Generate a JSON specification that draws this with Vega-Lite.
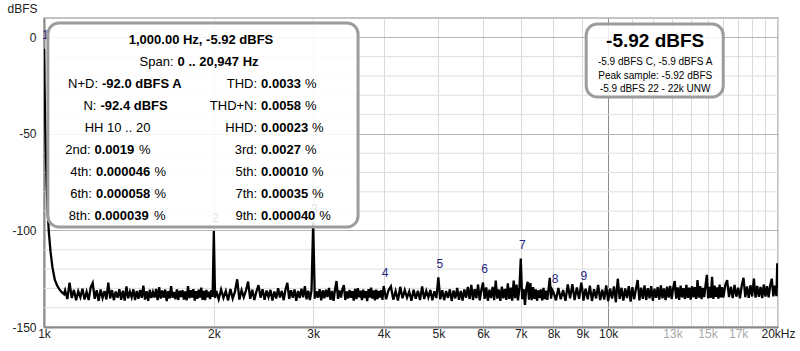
{
  "$schema": "https://vega.github.io/schema/vega-lite/v6.json",
  "width": 734,
  "height": 309,
  "autosize": {"type": "none"},
  "padding": {"left": 44, "top": 18, "right": 22, "bottom": 24},
  "background": "white",
  "config": {
    "font": "Liberation Sans",
    "view": {"stroke": "#b0b0b0", "strokeWidth": 1.5}
  },
  "datasets": {
    "minorGrid": [
      {"d":-140},{"d":-130},{"d":-120},{"d":-110},{"d":-90},{"d":-80},{"d":-70},{"d":-60},{"d":-40},{"d":-30},{"d":-20},{"d":-10}
    ],
    "spectrum": [
      {"f":1000,"d":-5.92},{"f":1001,"d":-14},{"f":1002,"d":-24},{"f":1004,"d":-38},{"f":1006,"d":-50},{"f":1008,"d":-62},{"f":1011,"d":-76},{"f":1015,"d":-90},{"f":1020,"d":-101},{"f":1027,"d":-111},{"f":1035,"d":-119},{"f":1045,"d":-125.5},{"f":1055,"d":-128.5},{"f":1065,"d":-130.5},{"f":1075,"d":-132},{"f":1085,"d":-133},
      {"f":1090,"d":-131.0},{"f":1100,"d":-135.5},{"f":1110,"d":-127.0},{"f":1120,"d":-135.0},{"f":1130,"d":-130.8},{"f":1140,"d":-136.2},{"f":1150,"d":-131.5},{"f":1160,"d":-134.6},{"f":1170,"d":-130.2},{"f":1180,"d":-135.8},{"f":1190,"d":-131.8},{"f":1200,"d":-136.0},{"f":1210,"d":-129.5},{"f":1220,"d":-127.2},{"f":1230,"d":-135.4},{"f":1240,"d":-131.0},{"f":1250,"d":-136.5},{"f":1260,"d":-130.6},{"f":1270,"d":-134.9},{"f":1280,"d":-131.4},{"f":1290,"d":-135.7},{"f":1300,"d":-127.0},{"f":1310,"d":-135.2},{"f":1320,"d":-130.9},{"f":1330,"d":-136.1},{"f":1340,"d":-131.6},{"f":1350,"d":-134.8},{"f":1360,"d":-130.4},{"f":1370,"d":-135.9},{"f":1380,"d":-131.2},{"f":1390,"d":-136.3},{"f":1400,"d":-129.0},{"f":1410,"d":-135.1},{"f":1420,"d":-131.7},{"f":1430,"d":-134.6},{"f":1440,"d":-130.5},{"f":1450,"d":-136.0},{"f":1460,"d":-131.3},{"f":1470,"d":-135.4},{"f":1480,"d":-130.8},{"f":1490,"d":-134.9},{"f":1500,"d":-128.6},{"f":1510,"d":-135.8},{"f":1520,"d":-131.5},{"f":1530,"d":-136.4},{"f":1540,"d":-130.7},{"f":1550,"d":-135.0},{"f":1560,"d":-131.9},{"f":1570,"d":-134.7},{"f":1580,"d":-130.3},{"f":1590,"d":-136.1},{"f":1600,"d":-129.4},{"f":1610,"d":-135.3},{"f":1620,"d":-131.1},{"f":1630,"d":-134.8},{"f":1640,"d":-130.6},{"f":1650,"d":-136.6},{"f":1660,"d":-131.4},{"f":1670,"d":-135.2},{"f":1680,"d":-128.9},{"f":1690,"d":-134.9},{"f":1700,"d":-131.8},{"f":1710,"d":-135.7},{"f":1720,"d":-130.5},{"f":1730,"d":-136.0},{"f":1740,"d":-131.2},{"f":1750,"d":-134.5},{"f":1760,"d":-130.9},{"f":1770,"d":-135.8},{"f":1780,"d":-131.6},{"f":1790,"d":-136.2},{"f":1800,"d":-128.8},{"f":1810,"d":-135.1},{"f":1820,"d":-131.0},{"f":1830,"d":-134.7},{"f":1840,"d":-130.4},{"f":1850,"d":-136.3},{"f":1860,"d":-131.5},{"f":1870,"d":-135.4},{"f":1880,"d":-130.7},{"f":1890,"d":-134.8},{"f":1900,"d":-129.6},{"f":1910,"d":-135.9},{"f":1920,"d":-131.3},{"f":1930,"d":-136.1},{"f":1940,"d":-130.8},{"f":1950,"d":-134.6},{"f":1960,"d":-131.7},{"f":1970,"d":-135.5},{"f":1980,"d":-130.9},{"f":1990,"d":-134.4},{"f":2000,"d":-100.3},{"f":2010,"d":-135.0},
      {"f":2020,"d":-131.2},{"f":2040,"d":-135.6},{"f":2060,"d":-130.6},{"f":2080,"d":-134.9},{"f":2100,"d":-131.4},{"f":2120,"d":-136.2},{"f":2140,"d":-130.3},{"f":2160,"d":-135.3},{"f":2180,"d":-131.7},{"f":2200,"d":-125.3},{"f":2220,"d":-135.8},{"f":2240,"d":-130.9},{"f":2260,"d":-134.6},{"f":2280,"d":-131.2},{"f":2300,"d":-126.5},{"f":2320,"d":-135.4},{"f":2340,"d":-130.7},{"f":2360,"d":-136.0},{"f":2380,"d":-131.5},{"f":2400,"d":-128.3},{"f":2420,"d":-134.8},{"f":2440,"d":-130.4},{"f":2460,"d":-135.9},{"f":2480,"d":-131.1},{"f":2500,"d":-134.5},{"f":2520,"d":-130.8},{"f":2540,"d":-136.3},{"f":2560,"d":-131.6},{"f":2580,"d":-135.2},{"f":2600,"d":-129.9},{"f":2620,"d":-134.7},{"f":2640,"d":-131.3},{"f":2660,"d":-136.1},{"f":2680,"d":-130.5},{"f":2700,"d":-127.1},{"f":2720,"d":-135.5},{"f":2740,"d":-131.0},{"f":2760,"d":-134.9},{"f":2780,"d":-130.6},{"f":2800,"d":-136.4},{"f":2820,"d":-131.4},{"f":2840,"d":-135.0},{"f":2860,"d":-130.2},{"f":2880,"d":-134.6},{"f":2900,"d":-128.8},{"f":2920,"d":-135.7},{"f":2940,"d":-131.2},{"f":2960,"d":-136.0},{"f":2980,"d":-130.9},{"f":3000,"d":-96.0},{"f":3020,"d":-135.3},{"f":3040,"d":-131.5},{"f":3060,"d":-134.8},{"f":3080,"d":-130.4},{"f":3100,"d":-136.2},{"f":3120,"d":-131.0},{"f":3140,"d":-135.1},{"f":3160,"d":-130.7},{"f":3180,"d":-134.5},{"f":3200,"d":-129.8},{"f":3220,"d":-135.9},{"f":3240,"d":-131.3},{"f":3260,"d":-136.5},{"f":3280,"d":-130.6},{"f":3300,"d":-126.2},{"f":3320,"d":-135.4},{"f":3340,"d":-131.1},{"f":3360,"d":-134.7},{"f":3380,"d":-130.5},{"f":3400,"d":-128.3},{"f":3420,"d":-136.0},{"f":3440,"d":-131.6},{"f":3460,"d":-135.2},{"f":3480,"d":-130.8},{"f":3500,"d":-134.9},{"f":3520,"d":-131.4},{"f":3540,"d":-136.3},{"f":3560,"d":-130.3},{"f":3580,"d":-135.6},{"f":3600,"d":-129.9},{"f":3620,"d":-134.6},{"f":3640,"d":-131.2},{"f":3660,"d":-136.1},{"f":3680,"d":-130.7},{"f":3700,"d":-135.0},{"f":3720,"d":-131.5},{"f":3740,"d":-136.6},{"f":3760,"d":-130.4},{"f":3780,"d":-134.8},{"f":3800,"d":-129.6},{"f":3820,"d":-135.3},{"f":3840,"d":-131.0},{"f":3860,"d":-136.2},{"f":3880,"d":-130.6},{"f":3900,"d":-135.5},{"f":3920,"d":-131.3},{"f":3940,"d":-134.7},{"f":3960,"d":-130.9},{"f":3980,"d":-136.0},
      {"f":4000,"d":-128.8},{"f":4040,"d":-135.6},{"f":4080,"d":-131.0},{"f":4120,"d":-129.0},{"f":4160,"d":-135.8},{"f":4200,"d":-131.4},{"f":4240,"d":-136.3},{"f":4280,"d":-129.2},{"f":4320,"d":-135.1},{"f":4360,"d":-130.9},{"f":4400,"d":-134.8},{"f":4440,"d":-131.6},{"f":4480,"d":-136.4},{"f":4520,"d":-130.7},{"f":4560,"d":-135.3},{"f":4600,"d":-131.2},{"f":4640,"d":-136.0},{"f":4680,"d":-129.0},{"f":4720,"d":-135.5},{"f":4760,"d":-131.3},{"f":4800,"d":-134.7},{"f":4840,"d":-130.8},{"f":4880,"d":-136.2},{"f":4920,"d":-131.5},{"f":4960,"d":-135.0},{"f":5000,"d":-124.3},{"f":5040,"d":-135.7},{"f":5080,"d":-130.9},{"f":5120,"d":-136.1},{"f":5160,"d":-131.4},{"f":5200,"d":-134.9},{"f":5240,"d":-130.5},{"f":5280,"d":-136.5},{"f":5320,"d":-131.1},{"f":5360,"d":-135.2},{"f":5400,"d":-129.8},{"f":5440,"d":-135.9},{"f":5480,"d":-131.3},{"f":5520,"d":-136.3},{"f":5560,"d":-130.6},{"f":5600,"d":-134.8},{"f":5640,"d":-129.3},{"f":5680,"d":-135.6},{"f":5720,"d":-128.2},{"f":5760,"d":-136.0},{"f":5800,"d":-130.4},{"f":5840,"d":-135.1},{"f":5880,"d":-128.0},{"f":5920,"d":-136.2},{"f":5960,"d":-130.8},{"f":6000,"d":-127.0},{"f":6040,"d":-135.4},{"f":6080,"d":-129.5},{"f":6120,"d":-136.4},{"f":6160,"d":-130.7},{"f":6200,"d":-135.0},{"f":6240,"d":-129.2},{"f":6280,"d":-136.1},{"f":6320,"d":-126.0},{"f":6360,"d":-135.3},{"f":6400,"d":-130.6},{"f":6440,"d":-136.5},{"f":6480,"d":-129.1},{"f":6520,"d":-135.2},{"f":6560,"d":-130.3},{"f":6600,"d":-136.0},{"f":6640,"d":-127.4},{"f":6680,"d":-135.5},{"f":6720,"d":-129.6},{"f":6760,"d":-136.3},{"f":6800,"d":-126.0},{"f":6840,"d":-135.1},{"f":6880,"d":-128.0},{"f":6920,"d":-136.2},{"f":6960,"d":-130.2},{"f":7000,"d":-114.5},{"f":7040,"d":-135.6},{"f":7080,"d":-130.4},{"f":7120,"d":-138.6},{"f":7160,"d":-130.0},{"f":7200,"d":-126.6},{"f":7240,"d":-135.8},{"f":7280,"d":-127.2},{"f":7320,"d":-136.1},{"f":7360,"d":-129.4},{"f":7400,"d":-135.4},{"f":7440,"d":-130.5},{"f":7480,"d":-136.4},{"f":7520,"d":-131.0},{"f":7560,"d":-135.0},{"f":7600,"d":-130.6},{"f":7640,"d":-136.2},{"f":7680,"d":-129.7},{"f":7720,"d":-135.5},{"f":7760,"d":-131.2},{"f":7800,"d":-136.0},{"f":7840,"d":-130.4},{"f":7880,"d":-124.5},{"f":7920,"d":-135.3},{"f":7960,"d":-130.8},
      {"f":8000,"d":-132.0},{"f":8080,"d":-136.2},{"f":8160,"d":-129.8},{"f":8240,"d":-135.6},{"f":8320,"d":-130.9},{"f":8400,"d":-136.4},{"f":8480,"d":-128.0},{"f":8560,"d":-135.1},{"f":8640,"d":-127.8},{"f":8720,"d":-136.0},{"f":8800,"d":-129.5},{"f":8880,"d":-135.4},{"f":8960,"d":-127.0},{"f":9000,"d":-130.5},{"f":9040,"d":-136.3},{"f":9120,"d":-130.2},{"f":9200,"d":-135.7},{"f":9280,"d":-128.6},{"f":9360,"d":-136.5},{"f":9440,"d":-130.4},{"f":9520,"d":-135.2},{"f":9600,"d":-128.2},{"f":9680,"d":-136.1},{"f":9760,"d":-130.7},{"f":9840,"d":-135.8},{"f":9920,"d":-128.4},{"f":10000,"d":-136.6},{"f":10080,"d":-130.1},{"f":10160,"d":-135.3},{"f":10240,"d":-129.0},{"f":10320,"d":-137.2},{"f":10400,"d":-125.0},{"f":10480,"d":-135.5},{"f":10560,"d":-129.7},{"f":10640,"d":-136.3},{"f":10720,"d":-130.0},{"f":10800,"d":-135.0},{"f":10880,"d":-128.9},{"f":10960,"d":-136.8},{"f":11040,"d":-129.4},{"f":11120,"d":-135.6},{"f":11200,"d":-130.3},{"f":11280,"d":-125.7},{"f":11360,"d":-136.2},{"f":11440,"d":-129.6},{"f":11520,"d":-135.4},{"f":11600,"d":-128.5},{"f":11680,"d":-136.0},{"f":11760,"d":-129.9},{"f":11840,"d":-135.1},{"f":11920,"d":-128.8},{"f":12000,"d":-136.4},{"f":12080,"d":-130.2},{"f":12160,"d":-134.9},{"f":12240,"d":-129.3},{"f":12320,"d":-135.8},{"f":12400,"d":-128.4},{"f":12480,"d":-135.2},{"f":12560,"d":-130.0},{"f":12640,"d":-136.1},{"f":12720,"d":-129.1},{"f":12800,"d":-134.8},{"f":12880,"d":-128.7},{"f":12960,"d":-135.6},{"f":13040,"d":-129.8},{"f":13120,"d":-126.2},{"f":13200,"d":-135.3},{"f":13280,"d":-129.5},{"f":13360,"d":-136.0},{"f":13440,"d":-128.6},{"f":13520,"d":-134.7},{"f":13600,"d":-129.9},{"f":13680,"d":-135.5},{"f":13760,"d":-128.2},{"f":13840,"d":-134.9},{"f":13920,"d":-129.6},{"f":14000,"d":-135.8},{"f":14080,"d":-128.9},{"f":14160,"d":-134.6},{"f":14240,"d":-129.4},{"f":14320,"d":-135.4},{"f":14400,"d":-125.7},{"f":14480,"d":-134.8},{"f":14560,"d":-128.8},{"f":14640,"d":-135.6},{"f":14720,"d":-129.7},{"f":14800,"d":-134.5},{"f":14880,"d":-128.3},{"f":14960,"d":-123.0},{"f":15040,"d":-135.2},{"f":15120,"d":-129.2},{"f":15200,"d":-134.9},{"f":15280,"d":-124.0},{"f":15360,"d":-135.5},{"f":15440,"d":-128.6},{"f":15520,"d":-134.4},{"f":15600,"d":-129.5},{"f":15680,"d":-135.3},{"f":15760,"d":-128.1},{"f":15840,"d":-134.7},{"f":15920,"d":-129.3},
      {"f":16000,"d":-134.8},{"f":16125,"d":-128.4},{"f":16250,"d":-125.7},{"f":16375,"d":-134.5},{"f":16500,"d":-129.1},{"f":16625,"d":-135.0},{"f":16750,"d":-128.2},{"f":16875,"d":-134.3},{"f":17000,"d":-129.6},{"f":17125,"d":-135.1},{"f":17250,"d":-128.5},{"f":17375,"d":-124.5},{"f":17500,"d":-134.6},{"f":17625,"d":-129.0},{"f":17750,"d":-134.9},{"f":17875,"d":-128.3},{"f":18000,"d":-134.2},{"f":18125,"d":-125.0},{"f":18250,"d":-134.8},{"f":18375,"d":-128.7},{"f":18500,"d":-134.4},{"f":18625,"d":-129.2},{"f":18750,"d":-135.0},{"f":18875,"d":-128.0},{"f":19000,"d":-134.3},{"f":19125,"d":-128.9},{"f":19250,"d":-134.7},{"f":19375,"d":-128.4},{"f":19500,"d":-125.0},{"f":19625,"d":-134.1},{"f":19750,"d":-128.6},{"f":19875,"d":-134.0},{"f":19940,"d":-117.0},{"f":20000,"d":-130.0}
    ],
    "harmonics": [
      {"n":"1","f":1000,"d":-5.92},{"n":"2","f":2000,"d":-100.3},{"n":"3","f":3000,"d":-96.0},{"n":"4","f":4000,"d":-128.8},{"n":"5","f":5000,"d":-124.3},{"n":"6","f":6000,"d":-127.0},{"n":"7","f":7000,"d":-114.5},{"n":"8","f":8000,"d":-132.0},{"n":"9","f":9000,"d":-130.5}
    ],
    "boxes": [
      {"box":"distortion","f":1016,"f2":3603,"d":7.4,"d2":-98.2},
      {"box":"level","f":9142,"f2":15994,"d":6.9,"d2":-30.9}
    ],
    "pairs": [
      {"label":"Span:","value":"0 .. 20,947 Hz","f":1711,"d":-12.8},
      {"label":"N+D:","value":"-92.0 dBFS A","f":1257,"d":-24.2},
      {"label":"N:","value":"-92.4 dBFS","f":1249,"d":-35.6},
      {"label":"2nd:","value":"0.0019","unit":"%","f":1219,"uf":1474,"d":-58.3},
      {"label":"4th:","value":"0.000046","unit":"%","f":1226,"uf":1570,"d":-69.7},
      {"label":"6th:","value":"0.000058","unit":"%","f":1226,"uf":1570,"d":-81.1},
      {"label":"8th:","value":"0.000039","unit":"%","f":1219,"uf":1567,"d":-92.5},
      {"label":"THD:","value":"0.0033","unit":"%","f":2406,"uf":2903,"d":-24.2},
      {"label":"THD+N:","value":"0.0058","unit":"%","f":2406,"uf":2903,"d":-35.6},
      {"label":"HHD:","value":"0.00023","unit":"%","f":2406,"uf":2987,"d":-46.9},
      {"label":"3rd:","value":"0.0027","unit":"%","f":2406,"uf":2903,"d":-58.3},
      {"label":"5th:","value":"0.00010","unit":"%","f":2406,"uf":2987,"d":-69.7},
      {"label":"7th:","value":"0.00035","unit":"%","f":2406,"uf":2987,"d":-81.1},
      {"label":"9th:","value":"0.000040","unit":"%","f":2406,"uf":3074,"d":-92.5}
    ],
    "notes": [
      {"text":"1,000.00 Hz, -5.92 dBFS","f":1898,"d":-1.4,"kind":"bold"},
      {"text":"HH 10 .. 20","f":1350,"d":-46.9,"kind":"plain"},
      {"text":"-5.92 dBFS","f":12115,"d":-2.0,"kind":"big"},
      {"text":"-5.9 dBFS C, -5.9 dBFS A","f":12115,"d":-12.8,"kind":"small"},
      {"text":"Peak sample: -5.92 dBFS","f":12115,"d":-20.0,"kind":"small"},
      {"text":"-5.9 dBFS 22 - 22k UNW","f":12115,"d":-27.0,"kind":"small"}
    ]
  },
  "layer": [
    {
      "data": {"name": "minorGrid"},
      "mark": {"type": "rule", "color": "#dedede", "strokeWidth": 1},
      "encoding": {
        "y": {"field": "d", "type": "quantitative"}
      }
    },
    {
      "data": {"name": "spectrum"},
      "mark": {"type": "line", "color": "#000000", "strokeWidth": 2.3, "clip": true, "interpolate": "linear"},
      "encoding": {
        "x": {
          "field": "f", "type": "quantitative",
          "scale": {"type": "log", "domain": [1000, 20000], "nice": false},
          "axis": {
            "title": null, "orient": "bottom",
            "values": [1000,2000,3000,4000,5000,6000,7000,8000,9000,10000,11000,12000,13000,14000,15000,16000,17000,18000,19000,20000],
            "labelExpr": "datum.value == 20000 ? '20kHz' : ((datum.value <= 10000 || datum.value == 13000 || datum.value == 15000 || datum.value == 17000) ? (datum.value / 1000) + 'k' : '')",
            "labelColor": {"condition": {"test": "datum.value == 13000 || datum.value == 15000 || datum.value == 17000", "value": "#a8a8a8"}, "value": "#222222"},
            "labelFont": "Liberation Sans", "labelFontSize": 12, "labelPadding": 1, "labelOverlap": false, "labelFlush": false,
            "ticks": false, "domain": true, "domainColor": "#8a8a8a", "domainWidth": 2,
            "grid": true, "gridWidth": 1,
            "gridColor": {"condition": {"test": "datum.value == 10000", "value": "#8c8c8c"}, "value": "#dadada"}
          }
        },
        "y": {
          "field": "d", "type": "quantitative",
          "scale": {"domain": [-150, 10], "nice": false, "zero": false},
          "axis": {
            "title": "dBFS", "orient": "left", "titleAngle": 0, "titleX": -7, "titleY": -6, "titleAlign": "right", "titleBaseline": "alphabetic",
            "titleFont": "Liberation Sans", "titleFontSize": 12, "titleFontWeight": "normal", "titleColor": "#222222",
            "values": [-150, -100, -50, 0],
            "labelExpr": "'' + datum.value",
            "labelFont": "Liberation Sans", "labelFontSize": 12, "labelColor": "#222222", "labelPadding": 8, "labelOverlap": false, "labelFlush": false,
            "ticks": false, "domain": true, "domainColor": "#8a8a8a", "domainWidth": 2,
            "grid": true, "gridWidth": 1, "gridColor": "#b4b4b4"
          }
        }
      }
    },
    {
      "data": {"name": "harmonics"},
      "mark": {"type": "text", "font": "Liberation Sans", "fontSize": 12, "color": "#25257f", "baseline": "middle", "align": "center", "dy": -13.5, "dx": 1.5},
      "encoding": {
        "x": {"field": "f", "type": "quantitative"},
        "y": {"field": "d", "type": "quantitative"},
        "text": {"field": "n"}
      }
    },
    {
      "data": {"name": "boxes"},
      "mark": {"type": "rect", "fill": "#ffffff", "fillOpacity": 0.86, "stroke": "#9c9c9c", "strokeWidth": 3, "cornerRadius": 11},
      "encoding": {
        "x": {"field": "f", "type": "quantitative"},
        "x2": {"field": "f2"},
        "y": {"field": "d", "type": "quantitative"},
        "y2": {"field": "d2"}
      }
    },
    {
      "data": {"name": "pairs"},
      "mark": {"type": "text", "font": "Liberation Sans", "fontSize": 13, "color": "#000000", "align": "right", "baseline": "middle", "dx": -2},
      "encoding": {
        "x": {"field": "f", "type": "quantitative"},
        "y": {"field": "d", "type": "quantitative"},
        "text": {"field": "label"}
      }
    },
    {
      "data": {"name": "pairs"},
      "mark": {"type": "text", "font": "Liberation Sans", "fontSize": 13, "fontWeight": "bold", "color": "#000000", "align": "left", "baseline": "middle", "dx": 2},
      "encoding": {
        "x": {"field": "f", "type": "quantitative"},
        "y": {"field": "d", "type": "quantitative"},
        "text": {"field": "value"}
      }
    },
    {
      "data": {"name": "pairs"},
      "transform": [{"filter": "datum.unit"}],
      "mark": {"type": "text", "font": "Liberation Sans", "fontSize": 13, "color": "#000000", "align": "left", "baseline": "middle"},
      "encoding": {
        "x": {"field": "uf", "type": "quantitative"},
        "y": {"field": "d", "type": "quantitative"},
        "text": {"field": "unit"}
      }
    },
    {
      "data": {"name": "notes"},
      "transform": [{"filter": "datum.kind == 'bold'"}],
      "mark": {"type": "text", "font": "Liberation Sans", "fontSize": 13, "fontWeight": "bold", "color": "#000000", "align": "center", "baseline": "middle"},
      "encoding": {
        "x": {"field": "f", "type": "quantitative"},
        "y": {"field": "d", "type": "quantitative"},
        "text": {"field": "text"}
      }
    },
    {
      "data": {"name": "notes"},
      "transform": [{"filter": "datum.kind == 'plain'"}],
      "mark": {"type": "text", "font": "Liberation Sans", "fontSize": 13, "color": "#000000", "align": "center", "baseline": "middle"},
      "encoding": {
        "x": {"field": "f", "type": "quantitative"},
        "y": {"field": "d", "type": "quantitative"},
        "text": {"field": "text"}
      }
    },
    {
      "data": {"name": "notes"},
      "transform": [{"filter": "datum.kind == 'big'"}],
      "mark": {"type": "text", "font": "Liberation Sans", "fontSize": 19, "fontWeight": "bold", "color": "#000000", "align": "center", "baseline": "middle"},
      "encoding": {
        "x": {"field": "f", "type": "quantitative"},
        "y": {"field": "d", "type": "quantitative"},
        "text": {"field": "text"}
      }
    },
    {
      "data": {"name": "notes"},
      "transform": [{"filter": "datum.kind == 'small'"}],
      "mark": {"type": "text", "font": "Liberation Sans", "fontSize": 10, "color": "#000000", "align": "center", "baseline": "middle"},
      "encoding": {
        "x": {"field": "f", "type": "quantitative"},
        "y": {"field": "d", "type": "quantitative"},
        "text": {"field": "text"}
      }
    }
  ]
}
